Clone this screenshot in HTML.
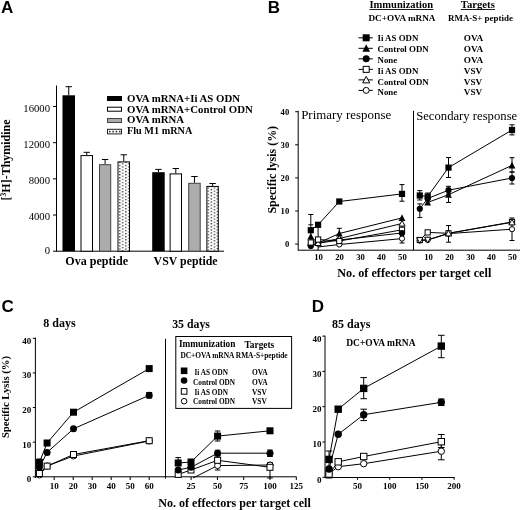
<!DOCTYPE html><html><head><meta charset="utf-8"><style>html,body{margin:0;padding:0;background:#fff;}svg{display:block;filter:grayscale(1);}</style></head><body>
<svg width="520" height="510" viewBox="0 0 520 510">
<defs><pattern id="dots1" x="118.95" y="0.5" width="6.1" height="3.1" patternUnits="userSpaceOnUse"><rect width="6.1" height="3.1" fill="#fff"/><rect x="0" y="0" width="1.5" height="1.2" fill="#444"/><rect x="3.05" y="1.55" width="1.5" height="1.2" fill="#444"/></pattern><pattern id="dots2" x="207.55" y="1.5" width="6.1" height="3.1" patternUnits="userSpaceOnUse"><rect width="6.1" height="3.1" fill="#fff"/><rect x="0" y="0" width="1.5" height="1.2" fill="#444"/><rect x="3.05" y="1.55" width="1.5" height="1.2" fill="#444"/></pattern></defs>
<rect width="520" height="510" fill="#fff"/>
<text x="1" y="13.2" font-family='"Liberation Sans", sans-serif' font-size="17" font-weight="bold">A</text>
<line x1="56.5" y1="85.5" x2="56.5" y2="251.7" stroke="#000" stroke-width="1"/>
<line x1="56.5" y1="251.2" x2="224" y2="251.2" stroke="#000" stroke-width="1"/>
<line x1="53.0" y1="251.2" x2="56.5" y2="251.2" stroke="#000" stroke-width="1"/>
<text x="50" y="253.8" font-family='"Liberation Serif", serif' font-size="10.7" font-weight="normal" text-anchor="end">0</text>
<line x1="53.0" y1="215.02" x2="56.5" y2="215.02" stroke="#000" stroke-width="1"/>
<text x="50" y="220.02" font-family='"Liberation Serif", serif' font-size="10.7" font-weight="normal" text-anchor="end">4000</text>
<line x1="53.0" y1="178.85" x2="56.5" y2="178.85" stroke="#000" stroke-width="1"/>
<text x="50" y="183.85" font-family='"Liberation Serif", serif' font-size="10.7" font-weight="normal" text-anchor="end">8000</text>
<line x1="53.0" y1="142.68" x2="56.5" y2="142.68" stroke="#000" stroke-width="1"/>
<text x="50" y="147.68" font-family='"Liberation Serif", serif' font-size="10.7" font-weight="normal" text-anchor="end">12000</text>
<line x1="53.0" y1="106.5" x2="56.5" y2="106.5" stroke="#000" stroke-width="1"/>
<text x="50" y="111.5" font-family='"Liberation Serif", serif' font-size="10.7" font-weight="normal" text-anchor="end">16000</text>
<line x1="68.75" y1="86.7" x2="68.75" y2="95.3" stroke="#000" stroke-width="1"/>
<line x1="65.55" y1="86.7" x2="71.95" y2="86.7" stroke="#000" stroke-width="1"/>
<rect x="62.5" y="95.3" width="12.5" height="155.9" fill="#000"/>
<line x1="86.75" y1="152.3" x2="86.75" y2="155.1" stroke="#000" stroke-width="1"/>
<line x1="83.55" y1="152.3" x2="89.95" y2="152.3" stroke="#000" stroke-width="1"/>
<rect x="81.0" y="155.6" width="11.5" height="95.6" fill="#fff" stroke="#000" stroke-width="1"/>
<line x1="105.1" y1="159.5" x2="105.1" y2="164.2" stroke="#000" stroke-width="1"/>
<line x1="101.9" y1="159.5" x2="108.3" y2="159.5" stroke="#000" stroke-width="1"/>
<rect x="99.5" y="164.7" width="11.2" height="86.5" fill="#acacac" stroke="#444" stroke-width="1"/>
<line x1="123.75" y1="154.8" x2="123.75" y2="161.4" stroke="#000" stroke-width="1"/>
<line x1="120.55" y1="154.8" x2="126.95" y2="154.8" stroke="#000" stroke-width="1"/>
<rect x="118.0" y="161.9" width="11.5" height="89.3" fill="url(#dots1)" stroke="#000" stroke-width="1"/>
<line x1="158.45" y1="169.4" x2="158.45" y2="172.2" stroke="#000" stroke-width="1"/>
<line x1="155.25" y1="169.4" x2="161.65" y2="169.4" stroke="#000" stroke-width="1"/>
<rect x="152.2" y="172.2" width="12.5" height="79.0" fill="#000"/>
<line x1="175.8" y1="168.5" x2="175.8" y2="173.4" stroke="#000" stroke-width="1"/>
<line x1="172.6" y1="168.5" x2="179.0" y2="168.5" stroke="#000" stroke-width="1"/>
<rect x="170.1" y="173.9" width="11.4" height="77.3" fill="#fff" stroke="#000" stroke-width="1"/>
<line x1="194.45" y1="176.5" x2="194.45" y2="182.8" stroke="#000" stroke-width="1"/>
<line x1="191.25" y1="176.5" x2="197.65" y2="176.5" stroke="#000" stroke-width="1"/>
<rect x="188.7" y="183.3" width="11.5" height="67.9" fill="#acacac" stroke="#444" stroke-width="1"/>
<line x1="212.6" y1="183.5" x2="212.6" y2="185.9" stroke="#000" stroke-width="1"/>
<line x1="209.4" y1="183.5" x2="215.8" y2="183.5" stroke="#000" stroke-width="1"/>
<rect x="206.9" y="186.4" width="11.4" height="64.8" fill="url(#dots2)" stroke="#000" stroke-width="1"/>
<text x="65.3" y="265.3" font-family='"Liberation Serif", serif' font-size="12" font-weight="bold" textLength="62.7" lengthAdjust="spacingAndGlyphs">Ova peptide</text>
<text x="153.6" y="265.4" font-family='"Liberation Serif", serif' font-size="12" font-weight="bold" textLength="64" lengthAdjust="spacingAndGlyphs">VSV peptide</text>
<rect x="107" y="96" width="15" height="5" fill="#000"/>
<rect x="107.5" y="107.2" width="14" height="4" fill="#fff" stroke="#000"/>
<rect x="107.5" y="118.5" width="14" height="4" fill="#acacac" stroke="#444"/>
<rect x="107.5" y="129.3" width="14" height="4.6" fill="#fff" stroke="#222"/>
<rect x="109.0" y="130.8" width="1.6" height="1.6" fill="#333"/>
<rect x="112.3" y="130.8" width="1.6" height="1.6" fill="#333"/>
<rect x="115.6" y="130.8" width="1.6" height="1.6" fill="#333"/>
<rect x="118.9" y="130.8" width="1.6" height="1.6" fill="#333"/>
<text x="127" y="101.5" font-family='"Liberation Serif", serif' font-size="10.8" font-weight="bold">OVA mRNA+Ii AS ODN</text>
<text x="127" y="112.6" font-family='"Liberation Serif", serif' font-size="10.8" font-weight="bold">OVA mRNA+Control ODN</text>
<text x="127" y="123.4" font-family='"Liberation Serif", serif' font-size="10.8" font-weight="bold">OVA mRNA</text>
<text x="127" y="134.2" font-family='"Liberation Serif", serif' font-size="10.8" font-weight="bold" textLength="65.3" lengthAdjust="spacingAndGlyphs">Flu M1 mRNA</text>
<text transform="translate(10,159.9) rotate(-90)" text-anchor="middle" font-family='"Liberation Serif", serif' font-size="12" font-weight="bold" textLength="81" lengthAdjust="spacingAndGlyphs">[<tspan font-size="7.5" dy="-4">3</tspan><tspan dy="4">H]-Thymidine</tspan></text>
<text x="267.8" y="13" font-family='"Liberation Sans", sans-serif' font-size="17" font-weight="bold">B</text>
<text x="369.5" y="7.7" font-family='"Liberation Serif", serif' font-size="10.5" font-weight="bold">Immunization</text>
<line x1="369.5" y1="9.5" x2="433.5" y2="9.5" stroke="#000" stroke-width="0.9"/>
<text x="460.8" y="7.7" font-family='"Liberation Serif", serif' font-size="10.7" font-weight="bold">Targets</text>
<line x1="460.8" y1="9.5" x2="495" y2="9.5" stroke="#000" stroke-width="0.9"/>
<text x="368.5" y="21.2" font-family='"Liberation Serif", serif' font-size="9.17" font-weight="bold">DC+OVA mRNA</text>
<text x="448" y="21.2" font-family='"Liberation Serif", serif' font-size="8.95" font-weight="bold">RMA-S+ peptide</text>
<line x1="358.5" y1="37.8" x2="372.8" y2="37.8" stroke="#000" stroke-width="1"/>
<rect x="362.7" y="34.3" width="7" height="7" fill="#000"/>
<text x="377.5" y="41.2" font-family='"Liberation Serif", serif' font-size="8.85" font-weight="bold">Ii AS ODN</text>
<text x="463.8" y="41.2" font-family='"Liberation Serif", serif' font-size="9.2" font-weight="bold">OVA</text>
<line x1="358.5" y1="48.32" x2="372.8" y2="48.32" stroke="#000" stroke-width="1"/>
<polygon points="366.2,44.32 370.0,51.82 362.4,51.82" fill="#000"/>
<text x="377.5" y="52.05" font-family='"Liberation Serif", serif' font-size="8.85" font-weight="bold">Control ODN</text>
<text x="463.8" y="52.05" font-family='"Liberation Serif", serif' font-size="9.2" font-weight="bold">OVA</text>
<line x1="358.5" y1="58.84" x2="372.8" y2="58.84" stroke="#000" stroke-width="1"/>
<circle cx="366.2" cy="58.84" r="3.5" fill="#000"/>
<text x="377.5" y="62.9" font-family='"Liberation Serif", serif' font-size="8.85" font-weight="bold">None</text>
<text x="463.8" y="62.9" font-family='"Liberation Serif", serif' font-size="9.2" font-weight="bold">OVA</text>
<line x1="358.5" y1="69.36" x2="372.8" y2="69.36" stroke="#000" stroke-width="1"/>
<rect x="363.2" y="66.36" width="6" height="6" fill="#fff" stroke="#000" stroke-width="1"/>
<text x="377.5" y="73.75" font-family='"Liberation Serif", serif' font-size="8.85" font-weight="bold">Ii AS ODN</text>
<text x="463.8" y="73.75" font-family='"Liberation Serif", serif' font-size="9.2" font-weight="bold">VSV</text>
<line x1="358.5" y1="79.88" x2="372.8" y2="79.88" stroke="#000" stroke-width="1"/>
<polygon points="366.2,76.38 369.7,82.88 362.7,82.88" fill="#fff" stroke="#000" stroke-width="1"/>
<text x="377.5" y="84.6" font-family='"Liberation Serif", serif' font-size="8.85" font-weight="bold">Control ODN</text>
<text x="463.8" y="84.6" font-family='"Liberation Serif", serif' font-size="9.2" font-weight="bold">VSV</text>
<line x1="358.5" y1="90.4" x2="372.8" y2="90.4" stroke="#000" stroke-width="1"/>
<circle cx="366.2" cy="90.4" r="3.0" fill="#fff" stroke="#000" stroke-width="1"/>
<text x="377.5" y="95.45" font-family='"Liberation Serif", serif' font-size="8.85" font-weight="bold">None</text>
<text x="463.8" y="95.45" font-family='"Liberation Serif", serif' font-size="9.2" font-weight="bold">VSV</text>
<line x1="298.2" y1="110.8" x2="298.2" y2="250.7" stroke="#000" stroke-width="1"/>
<line x1="298.2" y1="250.2" x2="520" y2="250.2" stroke="#000" stroke-width="1"/>
<line x1="413.5" y1="110.8" x2="413.5" y2="250.2" stroke="#000" stroke-width="1"/>
<line x1="295.2" y1="244.1" x2="298.2" y2="244.1" stroke="#000" stroke-width="1"/>
<text x="289.2" y="247.0" font-family='"Liberation Serif", serif' font-size="8.6" font-weight="bold" text-anchor="end">0</text>
<line x1="295.2" y1="211.0" x2="298.2" y2="211.0" stroke="#000" stroke-width="1"/>
<text x="289.2" y="213.9" font-family='"Liberation Serif", serif' font-size="8.6" font-weight="bold" text-anchor="end">10</text>
<line x1="295.2" y1="177.9" x2="298.2" y2="177.9" stroke="#000" stroke-width="1"/>
<text x="289.2" y="180.8" font-family='"Liberation Serif", serif' font-size="8.6" font-weight="bold" text-anchor="end">20</text>
<line x1="295.2" y1="144.8" x2="298.2" y2="144.8" stroke="#000" stroke-width="1"/>
<text x="289.2" y="147.7" font-family='"Liberation Serif", serif' font-size="8.6" font-weight="bold" text-anchor="end">30</text>
<line x1="295.2" y1="111.7" x2="298.2" y2="111.7" stroke="#000" stroke-width="1"/>
<text x="289.2" y="114.6" font-family='"Liberation Serif", serif' font-size="8.6" font-weight="bold" text-anchor="end">40</text>
<text x="318.6" y="259.7" font-family='"Liberation Serif", serif' font-size="8.7" font-weight="bold" text-anchor="middle">10</text>
<text x="339.55" y="259.7" font-family='"Liberation Serif", serif' font-size="8.7" font-weight="bold" text-anchor="middle">20</text>
<text x="360.5" y="259.7" font-family='"Liberation Serif", serif' font-size="8.7" font-weight="bold" text-anchor="middle">30</text>
<text x="381.45" y="259.7" font-family='"Liberation Serif", serif' font-size="8.7" font-weight="bold" text-anchor="middle">40</text>
<text x="402.4" y="259.7" font-family='"Liberation Serif", serif' font-size="8.7" font-weight="bold" text-anchor="middle">50</text>
<text x="428.6" y="259.7" font-family='"Liberation Serif", serif' font-size="8.7" font-weight="bold" text-anchor="middle">10</text>
<text x="449.55" y="259.7" font-family='"Liberation Serif", serif' font-size="8.7" font-weight="bold" text-anchor="middle">20</text>
<text x="470.5" y="259.7" font-family='"Liberation Serif", serif' font-size="8.7" font-weight="bold" text-anchor="middle">30</text>
<text x="491.45" y="259.7" font-family='"Liberation Serif", serif' font-size="8.7" font-weight="bold" text-anchor="middle">40</text>
<text x="512.4" y="259.7" font-family='"Liberation Serif", serif' font-size="8.7" font-weight="bold" text-anchor="middle">50</text>
<text x="301.2" y="118.6" font-family='"Liberation Serif", serif' font-size="12.9" font-weight="normal" textLength="90" lengthAdjust="spacingAndGlyphs">Primary response</text>
<text x="416.2" y="119.7" font-family='"Liberation Serif", serif' font-size="12.6" font-weight="normal" textLength="101" lengthAdjust="spacingAndGlyphs">Secondary response</text>
<text x="337.3" y="277.3" font-family='"Liberation Serif", serif' font-size="12.1" font-weight="bold" textLength="154" lengthAdjust="spacingAndGlyphs">No. of effectors per target cell</text>
<text transform="translate(276.3,169.75) rotate(-90)" text-anchor="middle" font-family='"Liberation Serif", serif' font-size="12" font-weight="bold" textLength="87.7" lengthAdjust="spacingAndGlyphs">Specific lysis (%)</text>
<line x1="310.8" y1="214.5" x2="310.8" y2="224.8" stroke="#000" stroke-width="1"/>
<line x1="308.3" y1="214.5" x2="313.3" y2="214.5" stroke="#000" stroke-width="1"/>
<line x1="308.3" y1="224.8" x2="313.3" y2="224.8" stroke="#000" stroke-width="1"/>
<line x1="402" y1="184.6" x2="402" y2="201.2" stroke="#000" stroke-width="1"/>
<line x1="399.5" y1="184.6" x2="404.5" y2="184.6" stroke="#000" stroke-width="1"/>
<line x1="399.5" y1="201.2" x2="404.5" y2="201.2" stroke="#000" stroke-width="1"/>
<line x1="339.3" y1="228.3" x2="339.3" y2="239" stroke="#000" stroke-width="1"/>
<line x1="336.8" y1="228.3" x2="341.8" y2="228.3" stroke="#000" stroke-width="1"/>
<line x1="336.8" y1="239" x2="341.8" y2="239" stroke="#000" stroke-width="1"/>
<line x1="402" y1="233" x2="402" y2="243" stroke="#000" stroke-width="1"/>
<line x1="399.5" y1="233" x2="404.5" y2="233" stroke="#000" stroke-width="1"/>
<line x1="399.5" y1="243" x2="404.5" y2="243" stroke="#000" stroke-width="1"/>
<line x1="402" y1="225" x2="402" y2="233" stroke="#000" stroke-width="1"/>
<line x1="399.5" y1="225" x2="404.5" y2="225" stroke="#000" stroke-width="1"/>
<line x1="399.5" y1="233" x2="404.5" y2="233" stroke="#000" stroke-width="1"/>
<line x1="310.8" y1="224.8" x2="310.8" y2="246" stroke="#000" stroke-width="1"/>
<line x1="318.1" y1="224.8" x2="318.1" y2="250" stroke="#000" stroke-width="1"/>
<polyline fill="none" stroke="#000" stroke-width="1" points="318.1,247 339.3,244.5 402,238.6"/>
<polyline fill="none" stroke="#000" stroke-width="1" points="310.8,242.5 318.1,239.5 339.3,241 402,229.8"/>
<polyline fill="none" stroke="#000" stroke-width="1" points="310.8,243 318.1,243 339.3,238.5 402,223.5"/>
<polyline fill="none" stroke="#000" stroke-width="1" points="310.8,245.9 318.1,243.3 339.3,240 402,233"/>
<polyline fill="none" stroke="#000" stroke-width="1" points="310.8,236.5 318.1,243 339.3,233.5 402,217.9"/>
<polyline fill="none" stroke="#000" stroke-width="1" points="310.8,230.2 318.1,224.8 339.3,201.5 402,193.9"/>
<circle cx="310.8" cy="245.9" r="3.1" fill="#000"/>
<circle cx="318.1" cy="243.3" r="3.1" fill="#000"/>
<circle cx="339.3" cy="240" r="3.1" fill="#000"/>
<circle cx="402" cy="233" r="3.1" fill="#000"/>
<polygon points="310.8,232.9 314.2,239.6 307.4,239.6" fill="#000"/>
<polygon points="318.1,239.4 321.5,246.1 314.7,246.1" fill="#000"/>
<polygon points="339.3,229.9 342.7,236.6 335.9,236.6" fill="#000"/>
<polygon points="402,214.3 405.4,221.0 398.6,221.0" fill="#000"/>
<rect x="307.7" y="227.1" width="6.2" height="6.2" fill="#000"/>
<rect x="315.0" y="221.7" width="6.2" height="6.2" fill="#000"/>
<rect x="336.2" y="198.4" width="6.2" height="6.2" fill="#000"/>
<rect x="398.9" y="190.8" width="6.2" height="6.2" fill="#000"/>
<polygon points="310.8,239.9 313.9,245.6 307.7,245.6" fill="#fff" stroke="#000" stroke-width="1"/>
<polygon points="318.1,239.9 321.2,245.6 315.0,245.6" fill="#fff" stroke="#000" stroke-width="1"/>
<polygon points="339.3,235.4 342.4,241.1 336.2,241.1" fill="#fff" stroke="#000" stroke-width="1"/>
<polygon points="402,220.4 405.1,226.1 398.9,226.1" fill="#fff" stroke="#000" stroke-width="1"/>
<circle cx="339.3" cy="244.5" r="2.6" fill="#fff" stroke="#000" stroke-width="1"/>
<circle cx="402" cy="238.6" r="2.6" fill="#fff" stroke="#000" stroke-width="1"/>
<rect x="308.2" y="239.9" width="5.2" height="5.2" fill="#fff" stroke="#000" stroke-width="1"/>
<rect x="315.5" y="236.9" width="5.2" height="5.2" fill="#fff" stroke="#000" stroke-width="1"/>
<rect x="336.7" y="238.4" width="5.2" height="5.2" fill="#fff" stroke="#000" stroke-width="1"/>
<rect x="399.4" y="227.2" width="5.2" height="5.2" fill="#fff" stroke="#000" stroke-width="1"/>
<circle cx="402" cy="233" r="3.1" fill="#000"/>
<line x1="419.8" y1="190.6" x2="419.8" y2="200" stroke="#000" stroke-width="1"/>
<line x1="417.3" y1="190.6" x2="422.3" y2="190.6" stroke="#000" stroke-width="1"/>
<line x1="417.3" y1="200" x2="422.3" y2="200" stroke="#000" stroke-width="1"/>
<line x1="448.5" y1="157.5" x2="448.5" y2="177.5" stroke="#000" stroke-width="1"/>
<line x1="446.0" y1="157.5" x2="451.0" y2="157.5" stroke="#000" stroke-width="1"/>
<line x1="446.0" y1="177.5" x2="451.0" y2="177.5" stroke="#000" stroke-width="1"/>
<line x1="512" y1="124.8" x2="512" y2="134.9" stroke="#000" stroke-width="1"/>
<line x1="509.5" y1="124.8" x2="514.5" y2="124.8" stroke="#000" stroke-width="1"/>
<line x1="509.5" y1="134.9" x2="514.5" y2="134.9" stroke="#000" stroke-width="1"/>
<line x1="419.8" y1="203.9" x2="419.8" y2="217.6" stroke="#000" stroke-width="1"/>
<line x1="417.3" y1="203.9" x2="422.3" y2="203.9" stroke="#000" stroke-width="1"/>
<line x1="417.3" y1="217.6" x2="422.3" y2="217.6" stroke="#000" stroke-width="1"/>
<line x1="448.5" y1="190" x2="448.5" y2="202.5" stroke="#000" stroke-width="1"/>
<line x1="446.0" y1="190" x2="451.0" y2="190" stroke="#000" stroke-width="1"/>
<line x1="446.0" y1="202.5" x2="451.0" y2="202.5" stroke="#000" stroke-width="1"/>
<line x1="448.5" y1="186.3" x2="448.5" y2="194" stroke="#000" stroke-width="1"/>
<line x1="446.0" y1="186.3" x2="451.0" y2="186.3" stroke="#000" stroke-width="1"/>
<line x1="446.0" y1="194" x2="451.0" y2="194" stroke="#000" stroke-width="1"/>
<line x1="512" y1="157.7" x2="512" y2="172" stroke="#000" stroke-width="1"/>
<line x1="509.5" y1="157.7" x2="514.5" y2="157.7" stroke="#000" stroke-width="1"/>
<line x1="509.5" y1="172" x2="514.5" y2="172" stroke="#000" stroke-width="1"/>
<line x1="512" y1="172" x2="512" y2="184" stroke="#000" stroke-width="1"/>
<line x1="509.5" y1="172" x2="514.5" y2="172" stroke="#000" stroke-width="1"/>
<line x1="509.5" y1="184" x2="514.5" y2="184" stroke="#000" stroke-width="1"/>
<line x1="448.5" y1="225.5" x2="448.5" y2="242.2" stroke="#000" stroke-width="1"/>
<line x1="446.0" y1="225.5" x2="451.0" y2="225.5" stroke="#000" stroke-width="1"/>
<line x1="446.0" y1="242.2" x2="451.0" y2="242.2" stroke="#000" stroke-width="1"/>
<line x1="512" y1="218" x2="512" y2="240.5" stroke="#000" stroke-width="1"/>
<line x1="509.5" y1="218" x2="514.5" y2="218" stroke="#000" stroke-width="1"/>
<line x1="509.5" y1="240.5" x2="514.5" y2="240.5" stroke="#000" stroke-width="1"/>
<line x1="427.7" y1="193" x2="427.7" y2="200" stroke="#000" stroke-width="1"/>
<line x1="425.2" y1="193" x2="430.2" y2="193" stroke="#000" stroke-width="1"/>
<line x1="425.2" y1="200" x2="430.2" y2="200" stroke="#000" stroke-width="1"/>
<polyline fill="none" stroke="#000" stroke-width="1" points="419.8,240.5 427.7,240 448.5,233.6 512,229.2"/>
<polyline fill="none" stroke="#000" stroke-width="1" points="419.8,240 427.7,232.4 448.5,233.3 512,222"/>
<polyline fill="none" stroke="#000" stroke-width="1" points="419.8,240.2 427.7,239.8 448.5,233.3 512,222.3"/>
<polyline fill="none" stroke="#000" stroke-width="1" points="419.8,208.8 427.7,198.5 448.5,190.2 512,178"/>
<polyline fill="none" stroke="#000" stroke-width="1" points="427.7,202.5 448.5,194.7 512,165.4"/>
<polyline fill="none" stroke="#000" stroke-width="1" points="419.8,195.5 427.7,196.5 448.5,167.6 512,130"/>
<circle cx="419.8" cy="240.5" r="2.6" fill="#fff" stroke="#000" stroke-width="1"/>
<circle cx="427.7" cy="240" r="2.6" fill="#fff" stroke="#000" stroke-width="1"/>
<circle cx="448.5" cy="233.6" r="2.6" fill="#fff" stroke="#000" stroke-width="1"/>
<circle cx="512" cy="229.2" r="2.6" fill="#fff" stroke="#000" stroke-width="1"/>
<rect x="417.2" y="237.4" width="5.2" height="5.2" fill="#fff" stroke="#000" stroke-width="1"/>
<rect x="425.1" y="229.8" width="5.2" height="5.2" fill="#fff" stroke="#000" stroke-width="1"/>
<rect x="445.9" y="230.7" width="5.2" height="5.2" fill="#fff" stroke="#000" stroke-width="1"/>
<rect x="509.4" y="219.4" width="5.2" height="5.2" fill="#fff" stroke="#000" stroke-width="1"/>
<polygon points="419.8,243.3 422.9,237.6 416.7,237.6" fill="#fff" stroke="#000" stroke-width="1"/>
<polygon points="427.7,242.9 430.8,237.2 424.6,237.2" fill="#fff" stroke="#000" stroke-width="1"/>
<polygon points="448.5,230.2 451.6,235.9 445.4,235.9" fill="#fff" stroke="#000" stroke-width="1"/>
<polygon points="512,219.2 515.1,224.9 508.9,224.9" fill="#fff" stroke="#000" stroke-width="1"/>
<circle cx="419.8" cy="208.8" r="3.1" fill="#000"/>
<circle cx="427.7" cy="198.5" r="3.1" fill="#000"/>
<circle cx="448.5" cy="190.2" r="3.1" fill="#000"/>
<circle cx="512" cy="178" r="3.1" fill="#000"/>
<polygon points="427.7,198.9 431.1,205.6 424.3,205.6" fill="#000"/>
<polygon points="448.5,191.1 451.9,197.8 445.1,197.8" fill="#000"/>
<polygon points="512,161.8 515.4,168.5 508.6,168.5" fill="#000"/>
<rect x="416.7" y="192.4" width="6.2" height="6.2" fill="#000"/>
<rect x="424.6" y="193.4" width="6.2" height="6.2" fill="#000"/>
<rect x="445.4" y="164.5" width="6.2" height="6.2" fill="#000"/>
<rect x="508.9" y="126.9" width="6.2" height="6.2" fill="#000"/>
<text x="1.6" y="312.3" font-family='"Liberation Sans", sans-serif' font-size="17" font-weight="bold">C</text>
<text x="43.3" y="326.7" font-family='"Liberation Serif", serif' font-size="12" font-weight="bold">8 days</text>
<text x="172.2" y="327.5" font-family='"Liberation Serif", serif' font-size="11.8" font-weight="bold">35 days</text>
<line x1="35.4" y1="337.6" x2="35.4" y2="478" stroke="#000" stroke-width="1"/>
<line x1="35.4" y1="476.8" x2="296.5" y2="476.8" stroke="#000" stroke-width="1"/>
<line x1="165.5" y1="338.8" x2="165.5" y2="478.5" stroke="#000" stroke-width="1"/>
<line x1="32.8" y1="476.8" x2="35.4" y2="476.8" stroke="#000" stroke-width="1"/>
<text x="31.2" y="482.3" font-family='"Liberation Serif", serif' font-size="9" font-weight="bold" text-anchor="end">0</text>
<line x1="32.8" y1="442.18" x2="35.4" y2="442.18" stroke="#000" stroke-width="1"/>
<text x="31.2" y="447.68" font-family='"Liberation Serif", serif' font-size="9" font-weight="bold" text-anchor="end">10</text>
<line x1="32.8" y1="407.56" x2="35.4" y2="407.56" stroke="#000" stroke-width="1"/>
<text x="31.2" y="413.06" font-family='"Liberation Serif", serif' font-size="9" font-weight="bold" text-anchor="end">20</text>
<line x1="32.8" y1="372.94" x2="35.4" y2="372.94" stroke="#000" stroke-width="1"/>
<text x="31.2" y="378.44" font-family='"Liberation Serif", serif' font-size="9" font-weight="bold" text-anchor="end">30</text>
<line x1="32.8" y1="338.32" x2="35.4" y2="338.32" stroke="#000" stroke-width="1"/>
<text x="31.2" y="343.82" font-family='"Liberation Serif", serif' font-size="9" font-weight="bold" text-anchor="end">40</text>
<line x1="54.2" y1="476.8" x2="54.2" y2="480" stroke="#000" stroke-width="1"/>
<text x="54.2" y="489.3" font-family='"Liberation Serif", serif' font-size="9" font-weight="bold" text-anchor="middle">10</text>
<line x1="73.2" y1="476.8" x2="73.2" y2="480" stroke="#000" stroke-width="1"/>
<text x="73.2" y="489.3" font-family='"Liberation Serif", serif' font-size="9" font-weight="bold" text-anchor="middle">20</text>
<line x1="92.2" y1="476.8" x2="92.2" y2="480" stroke="#000" stroke-width="1"/>
<text x="92.2" y="489.3" font-family='"Liberation Serif", serif' font-size="9" font-weight="bold" text-anchor="middle">30</text>
<line x1="111.2" y1="476.8" x2="111.2" y2="480" stroke="#000" stroke-width="1"/>
<text x="111.2" y="489.3" font-family='"Liberation Serif", serif' font-size="9" font-weight="bold" text-anchor="middle">40</text>
<line x1="130.2" y1="476.8" x2="130.2" y2="480" stroke="#000" stroke-width="1"/>
<text x="130.2" y="489.3" font-family='"Liberation Serif", serif' font-size="9" font-weight="bold" text-anchor="middle">50</text>
<line x1="149.2" y1="476.8" x2="149.2" y2="480" stroke="#000" stroke-width="1"/>
<text x="149.2" y="489.3" font-family='"Liberation Serif", serif' font-size="9" font-weight="bold" text-anchor="middle">60</text>
<line x1="191.1" y1="476.8" x2="191.1" y2="480" stroke="#000" stroke-width="1"/>
<text x="191.1" y="489.3" font-family='"Liberation Serif", serif' font-size="9" font-weight="bold" text-anchor="middle">25</text>
<line x1="217.4" y1="476.8" x2="217.4" y2="480" stroke="#000" stroke-width="1"/>
<text x="217.4" y="489.3" font-family='"Liberation Serif", serif' font-size="9" font-weight="bold" text-anchor="middle">50</text>
<line x1="243.7" y1="476.8" x2="243.7" y2="480" stroke="#000" stroke-width="1"/>
<text x="243.7" y="489.3" font-family='"Liberation Serif", serif' font-size="9" font-weight="bold" text-anchor="middle">75</text>
<line x1="270.0" y1="476.8" x2="270.0" y2="480" stroke="#000" stroke-width="1"/>
<text x="270.0" y="489.3" font-family='"Liberation Serif", serif' font-size="9" font-weight="bold" text-anchor="middle">100</text>
<line x1="296.3" y1="476.8" x2="296.3" y2="480" stroke="#000" stroke-width="1"/>
<text x="296.3" y="489.3" font-family='"Liberation Serif", serif' font-size="9" font-weight="bold" text-anchor="middle">125</text>
<text x="158.2" y="506.8" font-family='"Liberation Serif", serif' font-size="12" font-weight="bold" textLength="152.6" lengthAdjust="spacingAndGlyphs">No. of effectors per target cell</text>
<text transform="translate(9,397) rotate(-90)" text-anchor="middle" font-family='"Liberation Serif", serif' font-size="10.7" font-weight="bold" textLength="82.2" lengthAdjust="spacingAndGlyphs">Specific Lysis (%)</text>
<rect x="175.8" y="336.5" width="115.8" height="71.9" fill="#fff" stroke="#000" stroke-width="1"/>
<text x="179" y="347.4" font-family='"Liberation Serif", serif' font-size="9.3" font-weight="bold">Immunization</text>
<text x="244.4" y="347.5" font-family='"Liberation Serif", serif' font-size="9.4" font-weight="bold">Targets</text>
<text x="180.4" y="357.9" font-family='"Liberation Serif", serif' font-size="7.4" font-weight="bold">DC+OVA mRNA RMA-S+peptide</text>
<rect x="180.8" y="367.5" width="6.6" height="6.6" fill="#000"/>
<text x="194.5" y="374.5" font-family='"Liberation Serif", serif' font-size="7.25" font-weight="bold">Ii AS ODN</text>
<text x="252" y="374.5" font-family='"Liberation Serif", serif' font-size="7.45" font-weight="bold">OVA</text>
<circle cx="184.1" cy="380.5" r="3.3" fill="#000"/>
<text x="193.1" y="384.5" font-family='"Liberation Serif", serif' font-size="7.25" font-weight="bold">Control ODN</text>
<text x="252" y="384.5" font-family='"Liberation Serif", serif' font-size="7.45" font-weight="bold">OVA</text>
<rect x="181.3" y="388.6" width="5.6" height="5.6" fill="#fff" stroke="#000" stroke-width="1"/>
<text x="194.5" y="394.5" font-family='"Liberation Serif", serif' font-size="7.25" font-weight="bold">Ii AS ODN</text>
<text x="252" y="394.5" font-family='"Liberation Serif", serif' font-size="7.45" font-weight="bold">VSV</text>
<circle cx="184.1" cy="401.2" r="2.8" fill="#fff" stroke="#000" stroke-width="1"/>
<text x="193.1" y="404.4" font-family='"Liberation Serif", serif' font-size="7.25" font-weight="bold">Control ODN</text>
<text x="252" y="404.4" font-family='"Liberation Serif", serif' font-size="7.45" font-weight="bold">VSV</text>
<polyline fill="none" stroke="#000" stroke-width="1" points="39.4,475 47.1,466 73.5,456 149.2,441"/>
<polyline fill="none" stroke="#000" stroke-width="1" points="39.4,473.5 47.1,466.1 73.5,454.5 149.2,440.7"/>
<polyline fill="none" stroke="#000" stroke-width="1" points="39.4,467.6 47.1,452.4 73.5,428.8 149.2,395.3"/>
<polyline fill="none" stroke="#000" stroke-width="1" points="39.4,462.4 47.1,443 73.5,412.2 149.2,368.6"/>
<line x1="149.2" y1="392.5" x2="149.2" y2="398" stroke="#000" stroke-width="1"/>
<line x1="146.2" y1="392.5" x2="152.2" y2="392.5" stroke="#000" stroke-width="1"/>
<line x1="146.2" y1="398" x2="152.2" y2="398" stroke="#000" stroke-width="1"/>
<line x1="39.4" y1="459" x2="39.4" y2="466" stroke="#000" stroke-width="1"/>
<line x1="36.9" y1="459" x2="41.9" y2="459" stroke="#000" stroke-width="1"/>
<line x1="36.9" y1="466" x2="41.9" y2="466" stroke="#000" stroke-width="1"/>
<circle cx="39.4" cy="475" r="3.0" fill="#fff" stroke="#000" stroke-width="1"/>
<circle cx="47.1" cy="466" r="3.0" fill="#fff" stroke="#000" stroke-width="1"/>
<circle cx="73.5" cy="456" r="3.0" fill="#fff" stroke="#000" stroke-width="1"/>
<circle cx="149.2" cy="441" r="3.0" fill="#fff" stroke="#000" stroke-width="1"/>
<rect x="36.4" y="470.5" width="6" height="6" fill="#fff" stroke="#000" stroke-width="1"/>
<rect x="44.1" y="463.1" width="6" height="6" fill="#fff" stroke="#000" stroke-width="1"/>
<rect x="70.5" y="451.5" width="6" height="6" fill="#fff" stroke="#000" stroke-width="1"/>
<rect x="146.2" y="437.7" width="6" height="6" fill="#fff" stroke="#000" stroke-width="1"/>
<circle cx="39.4" cy="467.6" r="3.5" fill="#000"/>
<circle cx="47.1" cy="452.4" r="3.5" fill="#000"/>
<circle cx="73.5" cy="428.8" r="3.5" fill="#000"/>
<circle cx="149.2" cy="395.3" r="3.5" fill="#000"/>
<rect x="35.9" y="458.9" width="7" height="7" fill="#000"/>
<rect x="43.6" y="439.5" width="7" height="7" fill="#000"/>
<rect x="70.0" y="408.7" width="7" height="7" fill="#000"/>
<rect x="145.7" y="365.1" width="7" height="7" fill="#000"/>
<line x1="178.2" y1="457.6" x2="178.2" y2="470" stroke="#000" stroke-width="1"/>
<line x1="175.4" y1="457.6" x2="181.0" y2="457.6" stroke="#000" stroke-width="1"/>
<line x1="175.4" y1="470" x2="181.0" y2="470" stroke="#000" stroke-width="1"/>
<line x1="217.6" y1="431" x2="217.6" y2="441" stroke="#000" stroke-width="1"/>
<line x1="214.8" y1="431" x2="220.4" y2="431" stroke="#000" stroke-width="1"/>
<line x1="214.8" y1="441" x2="220.4" y2="441" stroke="#000" stroke-width="1"/>
<line x1="217.6" y1="450.2" x2="217.6" y2="456" stroke="#000" stroke-width="1"/>
<line x1="214.8" y1="450.2" x2="220.4" y2="450.2" stroke="#000" stroke-width="1"/>
<line x1="214.8" y1="456" x2="220.4" y2="456" stroke="#000" stroke-width="1"/>
<line x1="270" y1="450" x2="270" y2="456.5" stroke="#000" stroke-width="1"/>
<line x1="267.2" y1="450" x2="272.8" y2="450" stroke="#000" stroke-width="1"/>
<line x1="267.2" y1="456.5" x2="272.8" y2="456.5" stroke="#000" stroke-width="1"/>
<line x1="217.6" y1="455" x2="217.6" y2="470" stroke="#000" stroke-width="1"/>
<line x1="214.8" y1="455" x2="220.4" y2="455" stroke="#000" stroke-width="1"/>
<line x1="214.8" y1="470" x2="220.4" y2="470" stroke="#000" stroke-width="1"/>
<line x1="270" y1="462.4" x2="270" y2="478" stroke="#000" stroke-width="1"/>
<line x1="267.2" y1="462.4" x2="272.8" y2="462.4" stroke="#000" stroke-width="1"/>
<line x1="267.2" y1="478" x2="272.8" y2="478" stroke="#000" stroke-width="1"/>
<polyline fill="none" stroke="#000" stroke-width="1" points="193,478 217.6,465.6 270,465"/>
<polyline fill="none" stroke="#000" stroke-width="1" points="178.2,474.4 191,470 217.6,460.3 270,467.3"/>
<polyline fill="none" stroke="#000" stroke-width="1" points="178.2,470 191,467.3 217.6,453.2 270,453.2"/>
<polyline fill="none" stroke="#000" stroke-width="1" points="178.2,463 191,462 217.6,436.1 270,430.8"/>
<circle cx="217.6" cy="465.6" r="3.0" fill="#fff" stroke="#000" stroke-width="1"/>
<circle cx="270" cy="465" r="3.0" fill="#fff" stroke="#000" stroke-width="1"/>
<rect x="175.2" y="471.4" width="6" height="6" fill="#fff" stroke="#000" stroke-width="1"/>
<rect x="188.0" y="467.0" width="6" height="6" fill="#fff" stroke="#000" stroke-width="1"/>
<rect x="214.6" y="457.3" width="6" height="6" fill="#fff" stroke="#000" stroke-width="1"/>
<rect x="267.0" y="464.3" width="6" height="6" fill="#fff" stroke="#000" stroke-width="1"/>
<circle cx="178.2" cy="470" r="3.5" fill="#000"/>
<circle cx="191" cy="467.3" r="3.5" fill="#000"/>
<circle cx="217.6" cy="453.2" r="3.5" fill="#000"/>
<circle cx="270" cy="453.2" r="3.5" fill="#000"/>
<rect x="174.7" y="459.5" width="7" height="7" fill="#000"/>
<rect x="187.5" y="458.5" width="7" height="7" fill="#000"/>
<rect x="214.1" y="432.6" width="7" height="7" fill="#000"/>
<rect x="266.5" y="427.3" width="7" height="7" fill="#000"/>
<text x="311.8" y="312.3" font-family='"Liberation Sans", sans-serif' font-size="17" font-weight="bold">D</text>
<text x="332" y="328.2" font-family='"Liberation Serif", serif' font-size="12" font-weight="bold">85 days</text>
<text x="346.2" y="346" font-family='"Liberation Serif", serif' font-size="9.4" font-weight="bold" textLength="69.3" lengthAdjust="spacingAndGlyphs">DC+OVA mRNA</text>
<line x1="325" y1="335.7" x2="325" y2="478" stroke="#000" stroke-width="1"/>
<line x1="325" y1="477.5" x2="454.5" y2="477.5" stroke="#000" stroke-width="1"/>
<line x1="322.4" y1="477.3" x2="325" y2="477.3" stroke="#000" stroke-width="1"/>
<text x="321.6" y="482.7" font-family='"Liberation Serif", serif' font-size="9" font-weight="bold" text-anchor="end">0</text>
<line x1="322.4" y1="442.0" x2="325" y2="442.0" stroke="#000" stroke-width="1"/>
<text x="321.6" y="447.4" font-family='"Liberation Serif", serif' font-size="9" font-weight="bold" text-anchor="end">10</text>
<line x1="322.4" y1="406.7" x2="325" y2="406.7" stroke="#000" stroke-width="1"/>
<text x="321.6" y="412.1" font-family='"Liberation Serif", serif' font-size="9" font-weight="bold" text-anchor="end">20</text>
<line x1="322.4" y1="371.4" x2="325" y2="371.4" stroke="#000" stroke-width="1"/>
<text x="321.6" y="376.8" font-family='"Liberation Serif", serif' font-size="9" font-weight="bold" text-anchor="end">30</text>
<line x1="322.4" y1="336.1" x2="325" y2="336.1" stroke="#000" stroke-width="1"/>
<text x="321.6" y="341.5" font-family='"Liberation Serif", serif' font-size="9" font-weight="bold" text-anchor="end">40</text>
<line x1="357.5" y1="477.3" x2="357.5" y2="479.8" stroke="#000" stroke-width="1"/>
<text x="357.5" y="489.3" font-family='"Liberation Serif", serif' font-size="9" font-weight="bold" text-anchor="middle">50</text>
<line x1="389.7" y1="477.3" x2="389.7" y2="479.8" stroke="#000" stroke-width="1"/>
<text x="389.7" y="489.3" font-family='"Liberation Serif", serif' font-size="9" font-weight="bold" text-anchor="middle">100</text>
<line x1="421.9" y1="477.3" x2="421.9" y2="479.8" stroke="#000" stroke-width="1"/>
<text x="421.9" y="489.3" font-family='"Liberation Serif", serif' font-size="9" font-weight="bold" text-anchor="middle">150</text>
<line x1="454.1" y1="477.3" x2="454.1" y2="479.8" stroke="#000" stroke-width="1"/>
<text x="454.1" y="489.3" font-family='"Liberation Serif", serif' font-size="9" font-weight="bold" text-anchor="middle">200</text>
<line x1="363.7" y1="377.6" x2="363.7" y2="398.7" stroke="#000" stroke-width="1"/>
<line x1="360.4" y1="377.6" x2="367.0" y2="377.6" stroke="#000" stroke-width="1"/>
<line x1="360.4" y1="398.7" x2="367.0" y2="398.7" stroke="#000" stroke-width="1"/>
<line x1="441.3" y1="335.3" x2="441.3" y2="357.7" stroke="#000" stroke-width="1"/>
<line x1="438.0" y1="335.3" x2="444.6" y2="335.3" stroke="#000" stroke-width="1"/>
<line x1="438.0" y1="357.7" x2="444.6" y2="357.7" stroke="#000" stroke-width="1"/>
<line x1="363.7" y1="409.2" x2="363.7" y2="420.6" stroke="#000" stroke-width="1"/>
<line x1="360.4" y1="409.2" x2="367.0" y2="409.2" stroke="#000" stroke-width="1"/>
<line x1="360.4" y1="420.6" x2="367.0" y2="420.6" stroke="#000" stroke-width="1"/>
<line x1="441.3" y1="399" x2="441.3" y2="405.5" stroke="#000" stroke-width="1"/>
<line x1="438.0" y1="399" x2="444.6" y2="399" stroke="#000" stroke-width="1"/>
<line x1="438.0" y1="405.5" x2="444.6" y2="405.5" stroke="#000" stroke-width="1"/>
<line x1="441.3" y1="434.5" x2="441.3" y2="447.5" stroke="#000" stroke-width="1"/>
<line x1="438.0" y1="434.5" x2="444.6" y2="434.5" stroke="#000" stroke-width="1"/>
<line x1="438.0" y1="447.5" x2="444.6" y2="447.5" stroke="#000" stroke-width="1"/>
<line x1="441.3" y1="444.4" x2="441.3" y2="459.8" stroke="#000" stroke-width="1"/>
<line x1="438.0" y1="444.4" x2="444.6" y2="444.4" stroke="#000" stroke-width="1"/>
<line x1="438.0" y1="459.8" x2="444.6" y2="459.8" stroke="#000" stroke-width="1"/>
<line x1="329" y1="451" x2="329" y2="478" stroke="#000" stroke-width="1"/>
<line x1="325.7" y1="451" x2="332.3" y2="451" stroke="#000" stroke-width="1"/>
<line x1="325.7" y1="478" x2="332.3" y2="478" stroke="#000" stroke-width="1"/>
<polyline fill="none" stroke="#000" stroke-width="1" points="329,473.5 338.2,466.7 363.7,463.7 441.3,451.2"/>
<polyline fill="none" stroke="#000" stroke-width="1" points="329,474 338.2,461.8 363.7,456.5 441.3,441.7"/>
<polyline fill="none" stroke="#000" stroke-width="1" points="329,469 338.2,434.3 363.7,414.7 441.3,402.3"/>
<polyline fill="none" stroke="#000" stroke-width="1" points="329,459.4 338.2,409.2 363.7,388.4 441.3,346.1"/>
<circle cx="329" cy="473.5" r="3.2" fill="#fff" stroke="#000" stroke-width="1"/>
<circle cx="338.2" cy="466.7" r="3.2" fill="#fff" stroke="#000" stroke-width="1"/>
<circle cx="363.7" cy="463.7" r="3.2" fill="#fff" stroke="#000" stroke-width="1"/>
<circle cx="441.3" cy="451.2" r="3.2" fill="#fff" stroke="#000" stroke-width="1"/>
<rect x="325.8" y="470.8" width="6.4" height="6.4" fill="#fff" stroke="#000" stroke-width="1"/>
<rect x="335.0" y="458.6" width="6.4" height="6.4" fill="#fff" stroke="#000" stroke-width="1"/>
<rect x="360.5" y="453.3" width="6.4" height="6.4" fill="#fff" stroke="#000" stroke-width="1"/>
<rect x="438.1" y="438.5" width="6.4" height="6.4" fill="#fff" stroke="#000" stroke-width="1"/>
<circle cx="329" cy="469" r="3.7" fill="#000"/>
<circle cx="338.2" cy="434.3" r="3.7" fill="#000"/>
<circle cx="363.7" cy="414.7" r="3.7" fill="#000"/>
<circle cx="441.3" cy="402.3" r="3.7" fill="#000"/>
<rect x="325.3" y="455.7" width="7.4" height="7.4" fill="#000"/>
<rect x="334.5" y="405.5" width="7.4" height="7.4" fill="#000"/>
<rect x="360.0" y="384.7" width="7.4" height="7.4" fill="#000"/>
<rect x="437.6" y="342.4" width="7.4" height="7.4" fill="#000"/>
</svg></body></html>
